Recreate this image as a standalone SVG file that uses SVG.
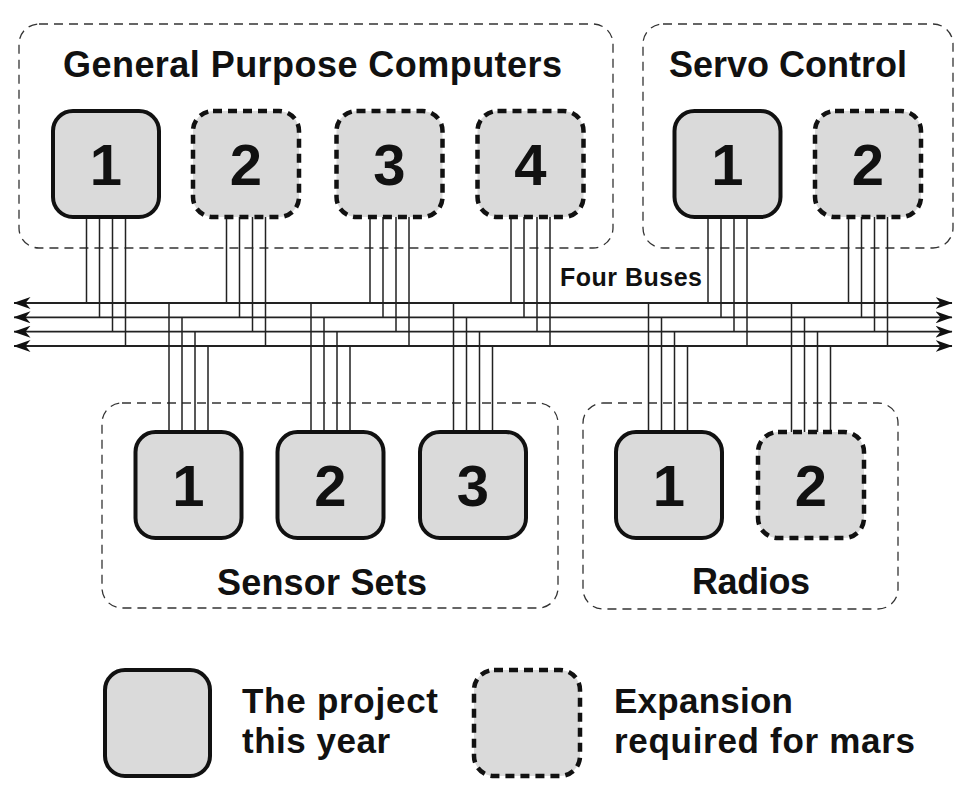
<svg xmlns="http://www.w3.org/2000/svg" width="971" height="789" viewBox="0 0 971 789">
<style>
text{font-family:"Liberation Sans",Arial,Helvetica,sans-serif;font-weight:bold;fill:#111}
.grp{fill:none;stroke:#333;stroke-width:1.3;stroke-dasharray:9 6}
.cur{fill:#dadada;stroke:#111;stroke-width:4}
.exp{fill:#dadada;stroke:#111;stroke-width:4.5;stroke-dasharray:9 6}
.num{font-size:58px;text-anchor:middle}
.lbl{font-size:36px;text-anchor:middle}
.leg{font-size:35px}
.wire{fill:none;stroke:#222;stroke-width:1.5}
.bus{fill:none;stroke:#222;stroke-width:1.8;marker-start:url(#ah);marker-end:url(#ah)}
</style>
<defs>
<marker id="ah" markerUnits="userSpaceOnUse" viewBox="0 0 17 12" refX="16.5" refY="6" markerWidth="17" markerHeight="12" orient="auto-start-reverse">
<path d="M0,0 L17,6 L0,12 L5,6 Z" fill="#111"/>
</marker>
</defs>
<rect x="0" y="0" width="971" height="789" fill="#fff"/>

<g id="group-gpc">
<rect class="grp" x="19" y="24" width="594" height="224" rx="20"/>
<text class="lbl" x="312.5" y="77" textLength="499" lengthAdjust="spacing">General Purpose Computers</text>
</g>
<g id="group-servo">
<rect class="grp" x="643" y="24" width="310" height="224" rx="20"/>
<text class="lbl" x="788" y="77" textLength="238" lengthAdjust="spacing">Servo Control</text>
</g>
<g id="group-sensors">
<rect class="grp" x="102" y="403" width="456" height="205" rx="20"/>
<text class="lbl" x="322" y="595" textLength="210" lengthAdjust="spacing">Sensor Sets</text>
</g>
<g id="group-radios">
<rect class="grp" x="583" y="403" width="315" height="206" rx="20"/>
<text class="lbl" x="751" y="594" font-size="35" textLength="118" lengthAdjust="spacing">Radios</text>
</g>

<g id="connectors">
<path class="bus" d="M14,303 H952"/>
<path class="bus" d="M14,317.3 H952"/>
<path class="bus" d="M14,331.7 H952"/>
<path class="bus" d="M14,346 H952"/>
<path class="wire" d="M86.5,217V303 M99.5,217V317.3 M112.5,217V331.7 M125.5,217V346"/>
<path class="wire" d="M226.5,217V303 M239.5,217V317.3 M252.5,217V331.7 M265.5,217V346"/>
<path class="wire" d="M370,217V303 M383,217V317.3 M396,217V331.7 M409,217V346"/>
<path class="wire" d="M511,217V303 M524,217V317.3 M537,217V331.7 M550,217V346"/>
<path class="wire" d="M708,217V303 M721,217V317.3 M734,217V331.7 M747,217V346"/>
<path class="wire" d="M848.5,217V303 M861.5,217V317.3 M874.5,217V331.7 M887.5,217V346"/>
<path class="wire" d="M169,303V432 M182,317.3V432 M195,331.7V432 M208,346V432"/>
<path class="wire" d="M311,303V432 M324,317.3V432 M337,331.7V432 M350,346V432"/>
<path class="wire" d="M453.5,303V432 M466.5,317.3V432 M479.5,331.7V432 M492.5,346V432"/>
<path class="wire" d="M648.5,303V432 M661.5,317.3V432 M674.5,331.7V432 M687.5,346V432"/>
<path class="wire" d="M791.5,303V432 M804.5,317.3V432 M817.5,331.7V432 M830.5,346V432"/>
<text x="631" y="286" font-size="25" text-anchor="middle" textLength="142" lengthAdjust="spacing">Four Buses</text>
</g>

<g id="gpc-1"><rect class="cur" x="53" y="111" width="106" height="106" rx="20"/><text class="num" x="106" y="185">1</text></g>
<g id="gpc-2"><rect class="exp" x="193" y="111" width="106" height="106" rx="20"/><text class="num" x="246" y="185">2</text></g>
<g id="gpc-3"><rect class="exp" x="336.5" y="111" width="106" height="106" rx="20"/><text class="num" x="389.5" y="185">3</text></g>
<g id="gpc-4"><rect class="exp" x="477.5" y="111" width="106" height="106" rx="20"/><text class="num" x="530.5" y="185">4</text></g>
<g id="servo-1"><rect class="cur" x="674.5" y="111" width="106" height="106" rx="20"/><text class="num" x="727.5" y="185">1</text></g>
<g id="servo-2"><rect class="exp" x="815" y="111" width="106" height="106" rx="20"/><text class="num" x="868" y="185">2</text></g>

<g id="sensor-1"><rect class="cur" x="135.5" y="432" width="106" height="106" rx="20"/><text class="num" x="188.5" y="506">1</text></g>
<g id="sensor-2"><rect class="cur" x="277.5" y="432" width="106" height="106" rx="20"/><text class="num" x="330.5" y="506">2</text></g>
<g id="sensor-3"><rect class="cur" x="420" y="432" width="106" height="106" rx="20"/><text class="num" x="473" y="506">3</text></g>
<g id="radio-1"><rect class="cur" x="616" y="432" width="106" height="106" rx="20"/><text class="num" x="669" y="506">1</text></g>
<g id="radio-2"><rect class="exp" x="758" y="432" width="106" height="106" rx="20"/><text class="num" x="811" y="506">2</text></g>

<g id="legend-current">
<rect class="cur" x="105" y="670" width="105" height="106" rx="20"/>
<text class="leg" x="242" y="713" textLength="196" lengthAdjust="spacing">The project</text>
<text class="leg" x="242" y="753" textLength="148" lengthAdjust="spacing">this year</text>
</g>
<g id="legend-expansion">
<rect class="exp" x="474" y="670" width="106" height="106" rx="20"/>
<text class="leg" x="614" y="713" textLength="179" lengthAdjust="spacing">Expansion</text>
<text class="leg" x="614" y="753" textLength="301" lengthAdjust="spacing">required for mars</text>
</g>
</svg>
